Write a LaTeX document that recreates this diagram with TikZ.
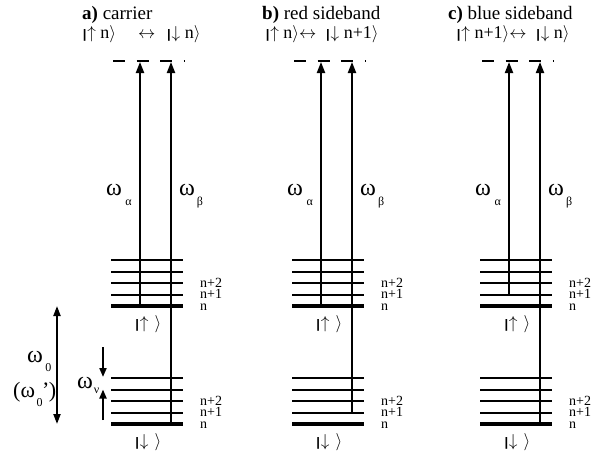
\documentclass[tikz,border=0pt]{standalone}
\usepackage{fontspec}
\usepackage{graphicx}
\setmainfont{Liberation Serif}
\usetikzlibrary{arrows.meta}
\newcommand{\kb}{\scalebox{1.3}[0.72]{\textbf{|}}}
\newcommand{\fsz}[1]{\fontsize{#1}{#1}\selectfont}
\begin{document}
\begin{tikzpicture}[x=1pt,y=-1pt,
  lvl/.style={line width=2pt},
  basel/.style={line width=3.5pt},
  beam/.style={line width=2pt,-{Triangle[length=11pt,width=8pt]}},
  dblarr/.style={line width=2pt,{Triangle[length=10pt,width=7pt]}-{Triangle[length=10pt,width=7pt]}},
  sarr/.style={line width=2pt,-{Triangle[length=9pt,width=7pt]}},
  virt/.style={line width=2.5pt,dash pattern=on 12pt off 11.6pt},
  nlab/.style={font=\fsz{14},anchor=base west,inner sep=0pt,text height=9pt,text depth=0pt},
  ttl/.style={font=\fsz{19},anchor=base west,inner sep=0pt},
  ket/.style={font=\fsz{18},anchor=base,inner sep=0pt},
  om/.style={font=\fsz{24},anchor=base west,inner sep=0pt}]
\useasboundingbox (0,0) rectangle (602,455);

% titles
\node[ttl] (ta) at (82,19) {\textbf{a)} carrier};
\node[ttl,font=\fsz{18}] (ka) at (82,38) {\kb$\uparrow$ n$\rangle$\hspace{22pt}$\leftrightarrow$\hspace{11pt}\kb$\downarrow$ n$\rangle$};
\node[ttl] (tb) at (262,19) {\textbf{b)} red sideband};
\node[ttl,font=\fsz{18}] (kb) at (265,38) {\kb$\uparrow$ n$\rangle$$\leftrightarrow$\hspace{9pt}\kb$\downarrow$ n+1$\rangle$};
\node[ttl] (tc) at (448,19) {\textbf{c)} blue sideband};
\node[ttl,font=\fsz{18}] (kc) at (456,38) {\kb$\uparrow$ n+1$\rangle$$\leftrightarrow$\hspace{9pt}\kb$\downarrow$ n$\rangle$};

\foreach \p/\x/\al/\bl in {a/111/306/424, b/292/306/412.5, c/480/294.5/424}{
 \begin{scope}[xshift=\x pt]
  \foreach \y [count=\i] in {260,271.5,283,294.5}{
    \coordinate (\p-u\i l) at (0,\y); \coordinate (\p-u\i r) at (72,\y);
    \draw[lvl] (\p-u\i l) -- (\p-u\i r);
    \coordinate (\p-d\i l) at (0,\y+118); \coordinate (\p-d\i r) at (72,\y+118);
    \draw[lvl] (\p-d\i l) -- (\p-d\i r);
  }
  \coordinate (\p-u0l) at (0,306); \coordinate (\p-u0r) at (72,306);
  \draw[basel] (\p-u0l) -- (\p-u0r);
  \coordinate (\p-d0l) at (0,424); \coordinate (\p-d0r) at (72,424);
  \draw[basel] (\p-d0l) -- (\p-d0r);
  % virtual level
  \coordinate (\p-vl) at (2,61); \coordinate (\p-vr) at (74,61);
  \draw[virt] (\p-vl) -- (\p-vr);
  % beams
  \coordinate (\p-sa) at (29,\al); \coordinate (\p-ta) at (29,62);
  \coordinate (\p-sb) at (60,\bl); \coordinate (\p-tb) at (60,62);
  \draw[beam] (\p-sa) -- (\p-ta);
  \draw[beam] (\p-sb) -- (\p-tb);
  % labels
  \node[om] (\p-wa) at (-5,195.5) {ω\hspace{3.5pt}\raisebox{-10pt}{\fsz{12}α}};
  \node[om] (\p-wb) at (68,195.5) {ω\hspace{2pt}\raisebox{-10pt}{\fsz{12}β}};
  \node[nlab] (\p-un2) at (89,287) {n+2};
  \node[nlab] (\p-un1) at (89,298.5) {n+1};
  \node[nlab] (\p-un0) at (89,310) {n};
  \node[nlab] (\p-dn2) at (89,405) {n+2};
  \node[nlab] (\p-dn1) at (89,416.5) {n+1};
  \node[nlab] (\p-dn0) at (89,428) {n};
  \node[ket] (\p-up) at (37,328) {\kb$\uparrow$\,\,$\rangle$};
  \node[ket] (\p-dn) at (37,446) {\kb$\downarrow$\,\,$\rangle$};
 \end{scope}
}

% left-hand frequency markers
\coordinate (w0t) at (57,306); \coordinate (w0b) at (57,424);
\draw[dblarr] (w0t) -- (w0b);
\node[om] (w0) at (27,362.4) {ω\hspace{2.5pt}\raisebox{-9pt}{\fsz{12}0}};
\node[om,font=\fsz{22}] (w0p) at (13,397.4) {(ω\hspace{1.5pt}\raisebox{-9pt}{\fsz{12}0}\hspace{-0.5pt}'\hspace{-0.5pt})};
\coordinate (wvd0) at (103,347); \coordinate (wvd1) at (103,377);
\draw[sarr] (wvd0) -- (wvd1);
\coordinate (wvu0) at (103,420); \coordinate (wvu1) at (103,389.5);
\draw[sarr] (wvu0) -- (wvu1);
\node[om] (wv) at (77,388.4) {ω\hspace{1pt}\raisebox{-5.3pt}{\fsz{12}ν}};
\end{tikzpicture}
\end{document}
